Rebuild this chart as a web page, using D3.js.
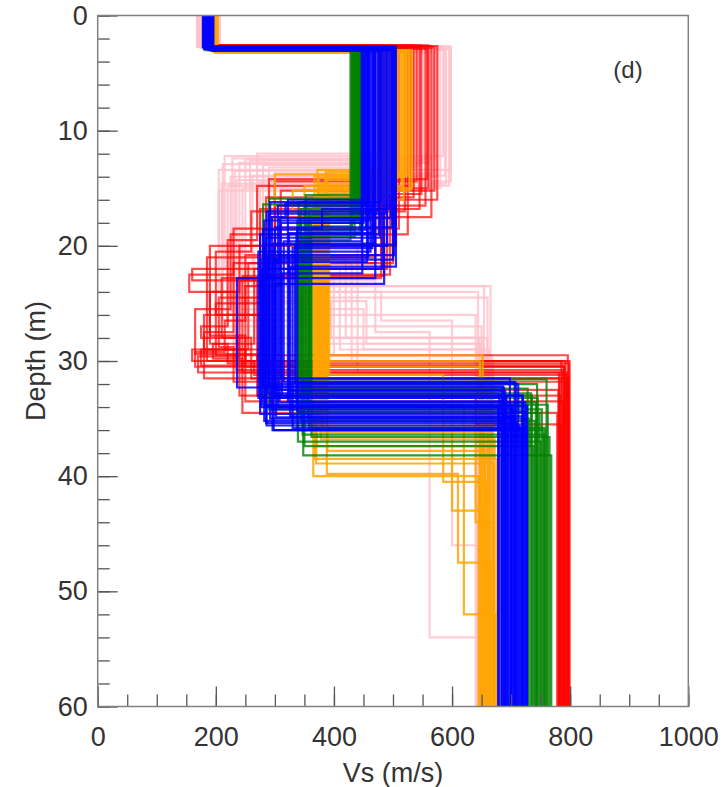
<!DOCTYPE html>
<html>
<head>
<meta charset="utf-8">
<script src="https://cdn.jsdelivr.net/npm/d3@7"></script>
<style>
  body { margin: 0; background: #fff; }
  text { font-family: "Liberation Sans", Arial, sans-serif; fill: #333; }
</style>
</head>
<body>
<script>
// each profile: vs1, bottom1, vs2, bottom2, ..., last vs (down to 60 m)
var pinkProfiles = [
  [170,2.7, 585,12.2, 215,22.0, 410,29.0, 655],
  [176,2.8, 560,12.8, 240,24.5, 660],
  [182,2.9, 597,13.4, 205,20.5, 265,28.5, 648],
  [200,3.1, 530,12.5, 250,23.0, 470,27.5, 562,54.0, 665],
  [207,3.2, 575,14.0, 225,26.0, 640],
  [172,2.75, 545,13.0, 280,21.5, 430,30.0, 670],
  [188,2.95, 590,14.6, 210,25.0, 395,28.0, 652],
  [195,3.0, 510,12.0, 270,18.5, 230,29.5, 658],
  [178,2.85, 568,13.7, 300,24.0, 480,26.5, 600,46.0, 645],
  [204,3.15, 520,14.3, 235,23.5, 665],
  [185,2.9, 552,12.6, 258,20.0, 440,31.0, 662],
  [168,2.7, 595,14.8, 220,27.0, 650],
  [198,3.05, 540,13.2, 290,22.5, 400,29.5, 668],
  [180,2.8, 580,15.0, 245,24.8, 455,28.5, 642],
  [174,2.8, 570,12.4, 228,21.0, 420,28.0, 660],
  [192,3.0, 588,13.9, 262,23.5, 654],
  [206,3.15, 535,12.9, 212,26.5, 385,30.5, 668],
  [169,2.7, 598,14.4, 275,19.5, 240,28.0, 646],
  [186,2.9, 515,13.5, 232,25.5, 450,29.0, 663],
  [200,3.05, 562,15.2, 205,24.0, 644]
];
var redProfiles = [
  [185,2.6, 560,15.0, 470,21.5, 230,27.5, 180,29.0, 250,30.5, 790],
  [190,2.7, 540,14.4, 300,22.0, 160,23.0, 270,30.0, 785],
  [182,2.65, 575,16.0, 480,22.8, 210,28.0, 240,29.6, 170,31.0, 795],
  [195,2.8, 520,17.0, 260,20.5, 200,26.0, 290,32.5, 780],
  [188,2.75, 505,20.0, 240,24.0, 190,28.5, 220,30.2, 798],
  [184,2.6, 548,15.5, 495,22.5, 280,29.0, 160,30.0, 792],
  [192,2.9, 470,21.0, 310,23.5, 250,33.5, 788],
  [186,2.7, 530,14.8, 270,19.5, 220,27.0, 175,28.0, 260,31.5, 782],
  [181,2.65, 565,17.5, 290,25.0, 200,29.5, 796],
  [194,2.8, 510,18.5, 230,22.5, 155,24.0, 235,30.8, 786],
  [187,2.75, 490,22.0, 265,28.5, 195,29.8, 245,34.5, 778],
  [183,2.7, 555,16.5, 300,21.0, 185,30.0, 265,31.2, 794],
  [190,2.85, 480,20.8, 250,26.5, 215,29.2, 165,30.5, 790],
  [185,2.6, 535,15.8, 285,23.0, 240,33.0, 640,35.5, 784],
  [189,2.7, 545,16.8, 275,24.5, 205,28.8, 230,31.8, 793],
  [183,2.65, 500,21.5, 255,29.0, 175,30.4, 789],
  [193,2.8, 570,15.2, 310,20.0, 190,27.8, 250,30.0, 799],
  [186,2.75, 525,19.0, 225,25.5, 165,29.4, 270,33.0, 783],
  [181,2.6, 485,22.6, 245,31.0, 781],
  [191,2.9, 558,14.2, 290,26.0, 180,31.5, 797]
];
var orangeProfiles = [
  [196,3.1, 505,13.4, 372,32.0, 668],
  [200,3.2, 520,14.0, 385,34.5, 655],
  [198,3.0, 488,14.6, 378,36.8, 672],
  [202,3.15, 528,15.2, 330,17.0, 390,30.5, 648],
  [195,3.05, 478,15.8, 368,38.5, 676],
  [199,3.1, 512,13.8, 300,16.5, 380,33.2, 660],
  [197,3.2, 495,14.3, 388,39.8, 610,47.5, 665],
  [201,3.0, 532,15.0, 375,29.5, 652],
  [196,3.1, 483,16.2, 382,35.6, 640,44.0, 670],
  [198,3.15, 515,14.8, 350,18.0, 371,37.4, 662],
  [200,3.05, 500,15.5, 392,31.2, 585,40.5, 658],
  [203,3.2, 470,16.6, 365,40.0, 645],
  [197,3.1, 522,13.6, 386,33.8, 620,52.0, 674],
  [199,3.0, 490,15.9, 376,36.2, 650],
  [198,3.1, 508,14.1, 374,34.8, 678],
  [201,3.2, 485,15.4, 389,37.8, 656],
  [196,3.05, 526,13.9, 367,32.6, 664],
  [200,3.15, 497,14.9, 381,36.0, 600,43.0, 654],
  [197,3.0, 518,16.0, 370,38.9, 671],
  [202,3.1, 476,15.1, 384,30.0, 647]
];
var greenProfiles = [
  [184,2.8, 432,15.6, 352,33.0, 735],
  [188,2.9, 440,16.2, 340,34.5, 748],
  [181,2.75, 436,17.0, 358,35.8, 758],
  [192,3.0, 445,17.6, 345,32.4, 728],
  [186,2.85, 430,18.3, 362,36.6, 765],
  [190,2.95, 448,19.0, 336,33.6, 742],
  [183,2.8, 438,15.9, 290,34.2, 752],
  [187,2.9, 442,16.6, 350,37.4, 738],
  [194,3.05, 434,17.3, 342,31.6, 760],
  [185,2.8, 446,18.0, 356,35.0, 730],
  [189,2.85, 428,19.5, 348,38.2, 768],
  [182,2.9, 452,16.4, 280,33.2, 745],
  [191,2.95, 439,17.8, 338,36.0, 755],
  [186,2.75, 444,18.8, 360,32.8, 734],
  [183,2.8, 437,16.8, 344,35.2, 740],
  [190,2.9, 449,17.4, 357,33.8, 762],
  [185,2.85, 431,18.6, 339,37.0, 750],
  [188,2.95, 443,16.0, 353,34.0, 726],
  [192,2.8, 435,19.2, 347,36.4, 756],
  [181,3.0, 441,17.7, 361,32.0, 744]
];
var blueProfiles = [
  [180,2.7, 452,16.0, 322,33.5, 690],
  [185,2.8, 470,16.5, 305,34.0, 700],
  [190,2.9, 488,17.2, 290,32.0, 712],
  [182,2.75, 460,17.8, 282,35.2, 684],
  [188,3.0, 498,18.4, 300,33.0, 720],
  [193,2.85, 476,19.0, 275,34.6, 695],
  [179,2.7, 447,19.6, 315,31.8, 706],
  [186,2.95, 465,20.2, 330,35.8, 726],
  [191,2.8, 502,20.8, 288,32.8, 680],
  [184,2.9, 456,21.4, 296,36.0, 716],
  [195,3.05, 482,22.0, 278,33.8, 702],
  [181,2.75, 470,22.8, 236,32.3, 688],
  [187,2.9, 493,16.8, 380,18.5, 338,34.4, 722],
  [189,2.8, 450,18.0, 310,31.5, 698],
  [183,2.85, 478,19.3, 285,35.4, 710],
  [194,2.95, 462,20.5, 272,33.2, 692],
  [186,2.7, 505,21.8, 326,34.8, 718],
  [192,3.0, 485,23.3, 300,32.5, 684],
  [178,2.75, 458,16.3, 318,17.5, 295,34.2, 704],
  [184,2.85, 474,17.0, 286,35.6, 714],
  [190,2.9, 496,17.6, 308,33.6, 724],
  [196,3.0, 454,18.6, 280,32.2, 686],
  [182,2.8, 468,19.8, 298,36.0, 694],
  [188,2.95, 490,20.0, 334,31.9, 708],
  [185,2.7, 500,21.2, 276,34.0, 678],
  [191,2.85, 448,22.4, 312,33.0, 719],
  [180,2.9, 480,16.2, 292,35.0, 700],
  [193,3.0, 466,18.9, 324,32.6, 690],
  [187,2.8, 504,19.9, 283,33.9, 727],
  [184,2.75, 458,21.0, 302,34.9, 706]
];
var vsMajor = [0, 200, 400, 600, 800, 1000];
var vsMinor = d3.range(0, 1001, 50);
var depthMajor = [0, 10, 20, 30, 40, 50, 60];
var depthMinor = d3.range(0, 61, 2);

var width = 722, height = 787;
var svg = d3.select("body").append("svg").attr("width", width).attr("height", height);

var x = d3.scaleLinear().domain([0, 1000]).range([97.7, 688.3]);
var y = d3.scaleLinear().domain([0, 60]).range([15.5, 706.5]);

svg.append("clipPath").attr("id", "plot")
    .append("rect")
    .attr("x", x(0)).attr("y", y(0))
    .attr("width", x(1000) - x(0)).attr("height", y(60) - y(0));

// turn a layered profile into the corner points of its step line
function steps(p) {
    var pts = [], top = 0;
    for (var i = 0; i < p.length; i += 2) {
        var bot = i + 1 < p.length ? p[i + 1] : 60;
        pts.push([p[i], top], [p[i], bot]);
        top = bot;
    }
    return pts;
}

var line = d3.line().x(function(d) { return x(d[0]); }).y(function(d) { return y(d[1]); });

var groups = [
    {data: pinkProfiles, color: "#ffc0cb", op: 0.8},
    {data: redProfiles, color: "#ff0000", op: 0.7},
    {data: orangeProfiles, color: "#ffa500", op: 0.85},
    {data: greenProfiles, color: "#008000", op: 0.8},
    {data: blueProfiles, color: "#0000ff", op: 0.85}
];

var lines = svg.append("g").attr("clip-path", "url(#plot)");
groups.forEach(function(g) {
    lines.append("g").selectAll("path")
        .data(g.data)
        .enter().append("path")
        .attr("d", function(d) { return line(steps(d)); })
        .attr("fill", "none")
        .attr("stroke", g.color)
        .attr("stroke-opacity", g.op)
        .attr("stroke-width", 2.2);
});

// axes
var xMinor = svg.append("g").attr("transform", "translate(0," + y(60) + ")")
    .call(d3.axisBottom(x).tickValues(vsMinor).tickSize(-12).tickSizeOuter(0).tickFormat(""));
var xMajor = svg.append("g").attr("transform", "translate(0," + y(60) + ")")
    .call(d3.axisBottom(x).tickValues(vsMajor).tickSize(-20).tickSizeOuter(0).tickPadding(20).tickFormat(d3.format("d")));
var yMinor = svg.append("g").attr("transform", "translate(" + x(0) + ",0)")
    .call(d3.axisLeft(y).tickValues(depthMinor).tickSize(-12).tickSizeOuter(0).tickFormat(""));
var yMajor = svg.append("g").attr("transform", "translate(" + x(0) + ",0)")
    .call(d3.axisLeft(y).tickValues(depthMajor).tickSize(-20).tickSizeOuter(0).tickPadding(10).tickFormat(d3.format("d")));

[xMinor, xMajor, yMinor, yMajor].forEach(function(a) {
    a.select(".domain").remove();
    a.selectAll(".tick line").attr("stroke", "#555").attr("stroke-width", 1.3);
    a.selectAll("text").style("font-size", "27px").attr("fill", "#333");
});

svg.append("rect")
    .attr("x", x(0)).attr("y", y(0))
    .attr("width", x(1000) - x(0)).attr("height", y(60) - y(0))
    .attr("fill", "none").attr("stroke", "#808080").attr("stroke-width", 1.5);

svg.append("text")
    .attr("x", (x(0) + x(1000)) / 2).attr("y", 782)
    .attr("text-anchor", "middle").style("font-size", "27px")
    .text("Vs (m/s)");

svg.append("text")
    .attr("transform", "translate(45," + (y(0) + y(60)) / 2 + ") rotate(-90)")
    .attr("text-anchor", "middle").style("font-size", "27px")
    .text("Depth (m)");

svg.append("text")
    .attr("x", 628).attr("y", 78)
    .attr("text-anchor", "middle").style("font-size", "24px")
    .text("(d)");
</script>
</body>
</html>
